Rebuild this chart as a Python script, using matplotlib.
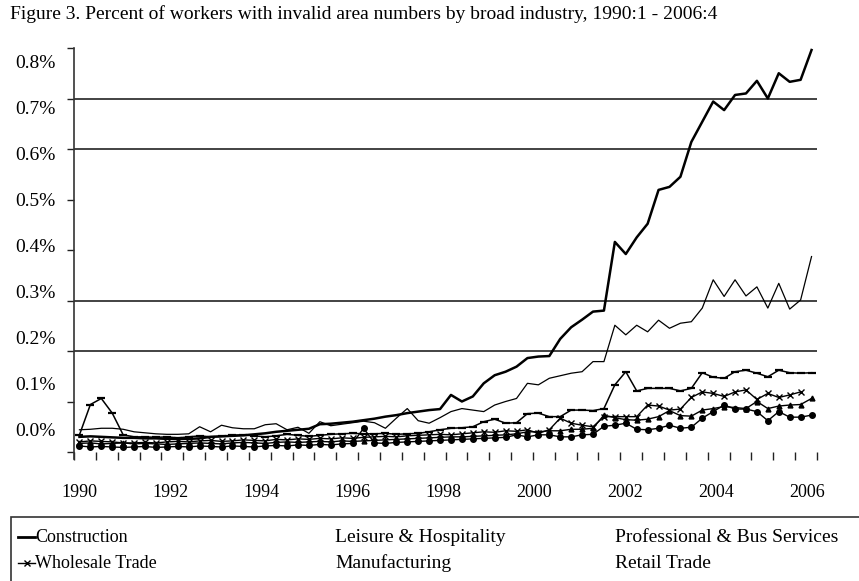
# -*- coding: utf-8 -*-

import numpy as np
import matplotlib; matplotlib.use('Agg')
import matplotlib.pyplot as plt
from matplotlib.lines import Line2D
from matplotlib.patches import Rectangle

plt.rcParams['font.family'] = ['Liberation Serif', 'DejaVu Serif']

# --------------------------
# --- data: percent of workers, quarterly 1990:1 - 2006:4 (68 quarters)

quarters = [f"{y}:{q}" for y in range(1990, 2007) for q in range(1, 5)]

construction = [
    0.030, 0.031, 0.030, 0.029, 0.028, 0.028, 0.027, 0.027, 0.026, 0.026,
    0.026, 0.027, 0.030, 0.031, 0.032, 0.033, 0.035, 0.037, 0.040, 0.042,
    0.044, 0.046, 0.055, 0.056, 0.058, 0.060, 0.063, 0.066, 0.070, 0.073,
    0.077, 0.080, 0.083, 0.085, 0.113, 0.100, 0.110, 0.136, 0.152, 0.159,
    0.169, 0.186, 0.189, 0.190, 0.224, 0.247, 0.262, 0.278, 0.280, 0.416,
    0.392, 0.425, 0.452, 0.519, 0.525, 0.545, 0.614, 0.654, 0.694, 0.677,
    0.707, 0.710, 0.735, 0.700, 0.750, 0.733, 0.737, 0.796]

leisure = [
    0.044, 0.045, 0.047, 0.047, 0.045, 0.040, 0.038, 0.036, 0.035, 0.035,
    0.036, 0.050, 0.040, 0.053, 0.048, 0.046, 0.046, 0.054, 0.056, 0.044,
    0.049, 0.037, 0.060, 0.052, 0.055, 0.058, 0.061, 0.058, 0.047, 0.067,
    0.086, 0.062, 0.057, 0.068, 0.080, 0.086, 0.083, 0.080, 0.093, 0.100,
    0.106, 0.136, 0.133, 0.146, 0.151, 0.156, 0.159, 0.179, 0.179, 0.251,
    0.232, 0.251, 0.238, 0.261, 0.245, 0.255, 0.258, 0.285, 0.341, 0.308,
    0.341, 0.309, 0.327, 0.285, 0.334, 0.283, 0.301, 0.387]

professional = [
    0.034, 0.094, 0.106, 0.077, 0.034, 0.030, 0.030, 0.029, 0.030, 0.028,
    0.030, 0.032, 0.030, 0.031, 0.033, 0.034, 0.032, 0.030, 0.032, 0.035,
    0.033, 0.031, 0.033, 0.035, 0.036, 0.037, 0.036, 0.036, 0.037, 0.035,
    0.036, 0.037, 0.040, 0.044, 0.047, 0.048, 0.050, 0.060, 0.065, 0.057,
    0.058, 0.076, 0.077, 0.070, 0.070, 0.083, 0.083, 0.082, 0.086, 0.133,
    0.159, 0.121, 0.126, 0.126, 0.126, 0.121, 0.126, 0.157, 0.148, 0.146,
    0.159, 0.162, 0.156, 0.149, 0.162, 0.157, 0.156, 0.157]

wholesale = [
    0.020, 0.022, 0.021, 0.020, 0.018, 0.018, 0.019, 0.018, 0.020, 0.021,
    0.020, 0.022, 0.023, 0.021, 0.022, 0.024, 0.023, 0.022, 0.025, 0.024,
    0.026, 0.025, 0.027, 0.026, 0.028, 0.027, 0.029, 0.030, 0.031, 0.030,
    0.032, 0.033, 0.034, 0.035, 0.034, 0.036, 0.038, 0.040, 0.039, 0.042,
    0.041, 0.044, 0.037, 0.044, 0.067, 0.057, 0.053, 0.050, 0.070, 0.070,
    0.070, 0.070, 0.093, 0.091, 0.083, 0.085, 0.108, 0.119, 0.116, 0.110,
    0.119, 0.123, 0.104, 0.116, 0.108, 0.113, 0.119, np.nan]

manufacturing = [
    0.017, 0.018, 0.016, 0.017, 0.018, 0.016, 0.017, 0.016, 0.015, 0.016,
    0.017, 0.018, 0.017, 0.016, 0.018, 0.019, 0.018, 0.017, 0.019, 0.020,
    0.019, 0.020, 0.021, 0.020, 0.022, 0.021, 0.022, 0.023, 0.024, 0.025,
    0.026, 0.027, 0.028, 0.029, 0.030, 0.030, 0.031, 0.032, 0.033, 0.034,
    0.036, 0.040, 0.040, 0.042, 0.042, 0.045, 0.045, 0.047, 0.073, 0.068,
    0.064, 0.063, 0.065, 0.070, 0.082, 0.072, 0.071, 0.083, 0.086, 0.090,
    0.088, 0.086, 0.100, 0.086, 0.091, 0.093, 0.094, 0.106]

retail = [
    0.012, 0.010, 0.011, 0.010, 0.009, 0.010, 0.011, 0.009, 0.010, 0.011,
    0.010, 0.012, 0.011, 0.010, 0.012, 0.011, 0.010, 0.012, 0.013, 0.012,
    0.014, 0.013, 0.015, 0.014, 0.016, 0.017, 0.047, 0.018, 0.017, 0.019,
    0.020, 0.021, 0.022, 0.023, 0.024, 0.025, 0.026, 0.027, 0.028, 0.029,
    0.034, 0.030, 0.034, 0.034, 0.030, 0.030, 0.034, 0.035, 0.051, 0.053,
    0.057, 0.045, 0.044, 0.047, 0.053, 0.047, 0.049, 0.067, 0.080, 0.093,
    0.085, 0.085, 0.080, 0.062, 0.080, 0.069, 0.069, 0.073]

series_names = ['Construction', 'Wholesale Trade', 'Leisure & Hospitality',
                'Manufacturing', 'Professional & Bus Services', 'Retail Trade']

year_labels = ['1990', '1992', '1994', '1996', '1998', '2000', '2002', '2004', '2006']
ytick_values = [0.0, 0.1, 0.2, 0.3, 0.4, 0.5, 0.6, 0.7, 0.8]
ytick_labels = ['0.0%', '0.1%', '0.2%', '0.3%', '0.4%', '0.5%', '0.6%', '0.7%', '0.8%']
grid_levels = [0.2, 0.3, 0.6, 0.7]

title = 'Figure 3. Percent of workers with invalid area numbers by broad industry, 1990:1 - 2006:4'

for s in [construction, leisure, professional, wholesale, manufacturing, retail]:
    assert len(s) == len(quarters)

# --------------------------
# --- plot

W, H = 859, 581
fig = plt.figure(figsize=(W / 100, H / 100), dpi=100)
ax = fig.add_axes([74 / W, (H - 452) / H, (817 - 74) / W, (452 - 48) / H])

x = np.arange(len(quarters))

for g in grid_levels:
    ax.axhline(g, color='#222222', lw=1.2, zorder=1)

ax.plot(x, construction, color='black', lw=1.8, zorder=5)
ax.plot(x, leisure, color='black', lw=0.9, zorder=4)
ax.plot(x, professional, color='black', lw=1.1, marker='_', ms=6, mew=1.6, zorder=3)
ax.plot(x, wholesale, color='black', lw=1.0, marker='x', ms=4.5, mew=1.0, zorder=3)
ax.plot(x, manufacturing, color='black', lw=1.0, marker='^', ms=3.5, zorder=3)
ax.plot(x, retail, color='black', lw=1.0, marker='o', ms=4, zorder=3)

ax.set_xlim(-0.5, len(quarters) - 0.5)
ax.set_ylim(0, 0.8)

# tick marks (category borders every 2 quarters, every 0.1%)
ax.set_xticks(np.arange(-0.5, len(quarters), 2))
ax.set_yticks(ytick_values)
ax.tick_params(axis='both', which='major', direction='out', color='#222222',
               width=1, labelbottom=False, labelleft=False)
ax.tick_params(axis='x', which='major', length=6)
ax.tick_params(axis='y', which='major', length=5)

# labels sit a little off the tick marks, as in the original
ax.set_xticks(np.linspace(0, 66.6, len(year_labels)), minor=True)
ax.set_xticklabels(year_labels, minor=True)
ax.set_yticks(np.linspace(0.044, 0.774, len(ytick_labels)), minor=True)
ax.set_yticklabels(ytick_labels, minor=True)
ax.tick_params(axis='x', which='minor', length=0, pad=23, labelsize=13)
ax.tick_params(axis='y', which='minor', length=0, pad=13.5, labelsize=14)

for side in ['top', 'right', 'bottom']:
    ax.spines[side].set_visible(False)
ax.spines['left'].set_color('#333333')
ax.spines['left'].set_linewidth(1.2)
ax.spines['left'].set_bounds(-0.014, 0.8)

fig.text(10 / W, 1 - 14 / H, title, fontsize=14, ha='left', va='center')

# --- legend box (cut off at the right and bottom edges)
fig.add_artist(Rectangle((11 / W, -0.1), 1.0, 0.1 + (H - 517) / H, transform=fig.transFigure,
                         fill=False, lw=1.2, ec='#333333', clip_on=False))
row_y = [1 - 537 / H, 1 - 563 / H]
col_x = [35 / W, 335 / W, 615 / W]
col_size = [13, 14, 14]
fig.add_artist(Line2D([18 / W, 35 / W], [row_y[0]] * 2, transform=fig.transFigure,
                      color='black', lw=2))
fig.add_artist(Line2D([18 / W, 35 / W], [row_y[1]] * 2, transform=fig.transFigure,
                      color='black', lw=1))
fig.add_artist(Line2D([27 / W], [row_y[1]], transform=fig.transFigure,
                      color='black', marker='x', ms=5, mew=1))
for i, name in enumerate(series_names):
    fig.text(col_x[i // 2], row_y[i % 2], name, fontsize=col_size[i // 2],
             ha='left', va='center')

plt.savefig('out.png', dpi=100)
